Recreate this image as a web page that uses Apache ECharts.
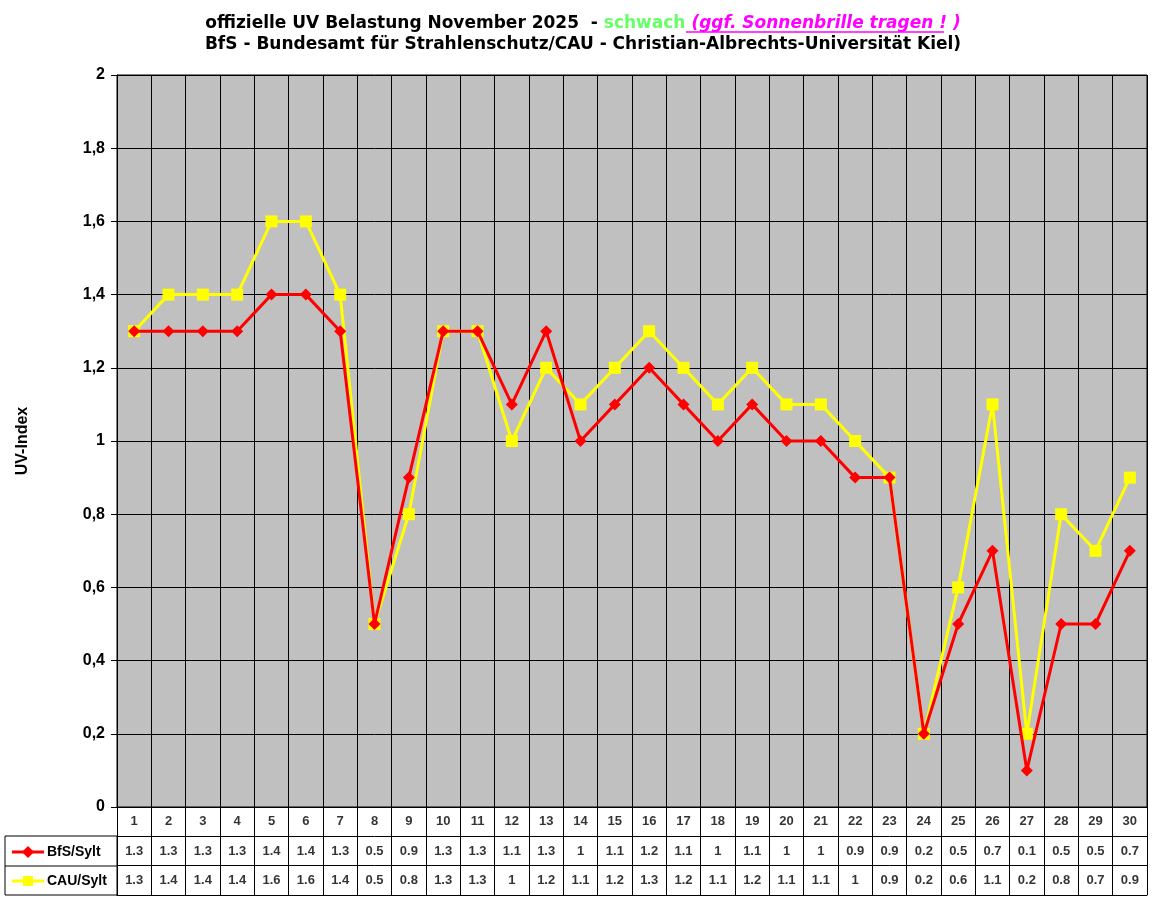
<!DOCTYPE html><html><head><meta charset="utf-8"><script src="https://cdn.jsdelivr.net/npm/echarts@6/dist/echarts.min.js"></script>
<style>body{margin:0;background:#fff}#c{width:1152px;height:900px}</style></head><body><div id="c"></div><script>
const days=['1','2','3','4','5','6','7','8','9','10','11','12','13','14','15','16','17','18','19','20','21','22','23','24','25','26','27','28','29','30'];
const bfs=[1.3,1.3,1.3,1.3,1.4,1.4,1.3,0.5,0.9,1.3,1.3,1.1,1.3,1,1.1,1.2,1.1,1,1.1,1,1,0.9,0.9,0.2,0.5,0.7,0.1,0.5,0.5,0.7];
const cau=[1.3,1.4,1.4,1.4,1.6,1.6,1.4,0.5,0.8,1.3,1.3,1,1.2,1.1,1.2,1.3,1.2,1.1,1.2,1.1,1.1,1,0.9,0.2,0.6,1.1,0.2,0.8,0.7,0.9];
const seriesNames=['BfS/Sylt','CAU/Sylt'];
const F='Arial, Liberation Sans, sans-serif';
const T='DejaVu Sans, sans-serif';
const tbl=[];
days.forEach((d,i)=>{tbl.push([i,'day',d]);tbl.push([i,'bfs',String(bfs[i])]);tbl.push([i,'cau',String(cau[i])]);});
const ch=echarts.init(document.getElementById('c'));
ch.setOption({
 animation:false,textStyle:{fontFamily:F},
 title:{left:578,textAlign:'center',top:10,itemGap:4,
  text:'{a|offizielle UV Belastung November 2025  - }{g|schwach }{m|(ggf. Sonnenbrille tragen ! )}',
  subtext:'BfS - Bundesamt für Strahlenschutz/CAU - Christian-Albrechts-Universität Kiel)',
  textStyle:{rich:{a:{fontSize:17,fontWeight:'bold',color:'#000',fontFamily:T},g:{fontSize:17,color:'#66ff66',fontFamily:T},m:{fontSize:17,fontStyle:'italic',color:'#ff00ff',fontFamily:T}}},
  subtextStyle:{fontSize:17,fontWeight:'bold',color:'#000',fontFamily:T}},
 grid:[{left:117,right:5,top:75,bottom:93,show:true,backgroundColor:'#c0c0c0',borderColor:'#000',borderWidth:1},
       {left:117,right:5,top:807,height:88}],
 xAxis:[{gridIndex:0,type:'category',data:days,boundaryGap:true,axisLabel:{show:false},axisTick:{show:false},axisLine:{lineStyle:{color:'#000'}},splitLine:{show:true,interval:0,lineStyle:{color:'#000',width:1}}},
        {gridIndex:1,type:'category',data:days,boundaryGap:true,axisLabel:{show:false},axisTick:{show:false},axisLine:{lineStyle:{color:'#000'}},splitLine:{show:true,interval:0,lineStyle:{color:'#000'}}}],
 yAxis:[{gridIndex:0,type:'value',min:0,max:2,interval:0.2,name:'UV-Index',nameLocation:'middle',nameGap:86,nameTextStyle:{fontSize:16,fontWeight:'bold',color:'#000'},
   axisLabel:{fontSize:16,fontWeight:'bold',color:'#000',margin:12,formatter:v=>String(+v.toFixed(1)).replace('.',',')},axisLine:{show:true,lineStyle:{color:'#000'}},axisTick:{show:true,length:6,lineStyle:{color:'#000'}},splitLine:{lineStyle:{color:'#000',width:1}}},
        {gridIndex:1,type:'category',data:['cau','bfs','day'],axisLabel:{show:false},axisTick:{show:false},axisLine:{show:true,lineStyle:{color:'#000'}},splitLine:{show:true,lineStyle:{color:'#000'}}}],
 series:[
  {name:seriesNames[0],type:'line',data:bfs,color:'#ff0000',lineStyle:{width:3},symbol:'diamond',symbolSize:12,itemStyle:{color:'#ff0000'},z:3},
  {name:seriesNames[1],type:'line',data:cau,color:'#ffff00',lineStyle:{width:3},symbol:'rect',symbolSize:12,itemStyle:{color:'#ffff00'},z:2},
  {type:'scatter',xAxisIndex:1,yAxisIndex:1,data:tbl,symbolSize:0,label:{show:true,position:'inside',formatter:p=>p.value[2],fontSize:13,fontWeight:'bold',color:'#000'}}
 ],
 graphic:[
  {type:'line',shape:{x1:686,y1:32,x2:944,y2:32},style:{stroke:'#ff00ff',lineWidth:1.5}},
  {type:'rect',shape:{x:5,y:836,width:112,height:59},style:{fill:'none',stroke:'#000',lineWidth:1}},
  {type:'line',shape:{x1:5,y1:866,x2:117,y2:866},style:{stroke:'#000'}},
  {type:'line',shape:{x1:12,y1:852,x2:44,y2:852},style:{stroke:'#ff0000',lineWidth:3}},
  {type:'polygon',shape:{points:[[28,846],[34,852],[28,858],[22,852]]},style:{fill:'#ff0000'}},
  {type:'text',style:{x:47,y:852,text:seriesNames[0],font:'bold 14px '+F,fill:'#000',verticalAlign:'middle'}},
  {type:'line',shape:{x1:12,y1:881,x2:44,y2:881},style:{stroke:'#ffff00',lineWidth:3}},
  {type:'rect',shape:{x:23,y:876,width:10,height:10},style:{fill:'#ffff00'}},
  {type:'text',style:{x:47,y:881,text:seriesNames[1],font:'bold 14px '+F,fill:'#000',verticalAlign:'middle'}}
 ]
});
</script></body></html>
